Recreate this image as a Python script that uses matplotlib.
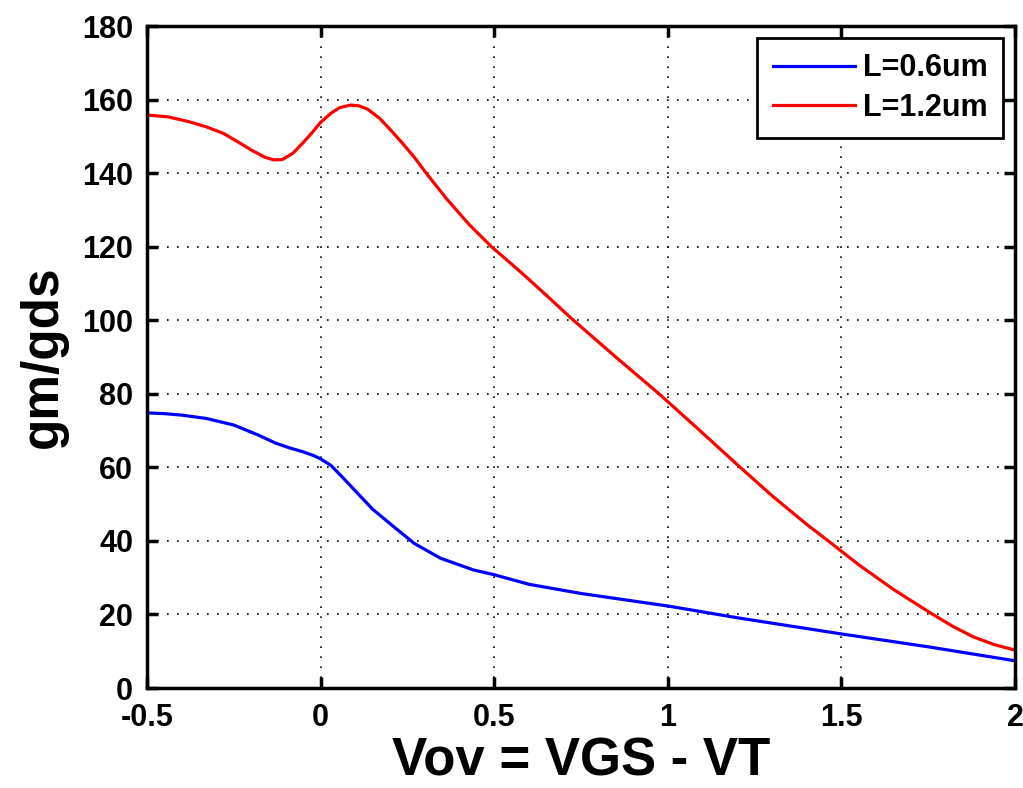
import matplotlib
matplotlib.use("Agg")
import matplotlib.pyplot as plt

# gm/gds versus overdrive voltage
vov_short = [-0.5, -0.45, -0.4, -0.33, -0.25, -0.18, -0.13, -0.09, -0.05, -0.02,
             0.0, 0.03, 0.06, 0.1, 0.15, 0.21, 0.27, 0.345, 0.44, 0.5,
             0.6, 0.75, 1.0, 1.2, 1.5, 1.75, 2.0]
gain_short = [74.8, 74.6, 74.2, 73.3, 71.5, 68.8, 66.6, 65.3, 64.2, 63.2,
              62.3, 60.5, 57.6, 53.6, 48.6, 43.9, 39.3, 35.3, 32.1, 30.8,
              28.2, 25.7, 22.3, 19.1, 14.7, 11.2, 7.4]

vov_long = [-0.5, -0.44, -0.38, -0.33, -0.28, -0.24, -0.2, -0.16, -0.135, -0.11,
            -0.08, -0.05, -0.02, 0.0, 0.03, 0.055, 0.086, 0.11, 0.135, 0.17,
            0.2, 0.235, 0.27, 0.3, 0.363, 0.43, 0.492, 0.574, 0.65, 0.721,
            0.85, 0.977, 1.09, 1.205, 1.3, 1.4, 1.462, 1.55, 1.65, 1.755,
            1.82, 1.88, 1.94, 2.0]
gain_long = [155.8, 155.3, 154.0, 152.6, 150.8, 148.6, 146.3, 144.3, 143.6, 143.7,
             145.4, 148.3, 151.5, 153.8, 156.3, 157.8, 158.5, 158.3, 157.4, 154.9,
             151.9, 148.2, 144.3, 140.5, 133.0, 125.8, 120.0, 113.3, 106.8, 100.6,
             90.0, 79.8, 70.2, 60.3, 52.3, 44.5, 40.0, 33.5, 26.8, 20.5,
             16.8, 13.9, 11.8, 10.3]

x_ticks = [-0.5, 0, 0.5, 1, 1.5, 2]
x_tick_labels = ['-0.5', '0', '0.5', '1', '1.5', '2']
y_ticks = list(range(0, 181, 20))

plt.rcParams['font.family'] = ['Liberation Sans', 'DejaVu Sans']
plt.rcParams['font.weight'] = 'bold'

fig = plt.figure(figsize=(10.23, 7.88), dpi=100)
ax = fig.add_axes([147 / 1023, 100 / 788, 868 / 1023, 662 / 788])

ax.plot(vov_short, gain_short, color='#0000ff', lw=2.3, label='L=0.6um')
ax.plot(vov_long, gain_long, color='#ff0000', lw=2.3, label='L=1.2um')

ax.set_xlim(-0.5, 2)
ax.set_ylim(0, 180)
ax.set_xticks(x_ticks)
ax.set_xticklabels(x_tick_labels)
ax.set_yticks(y_ticks)

ax.grid(True, color='black', linestyle=(0, (1, 5)), linewidth=1.2)
for side in ax.spines.values():
    side.set_linewidth(2.5)
ax.tick_params(direction='in', length=8, width=2.5, labelsize=22,
               top=True, right=True)
ax.tick_params(axis='x', pad=11)
ax.tick_params(axis='y', pad=10)

ax.set_xlabel('Vov = VGS - VT', fontsize=38, fontweight='bold', labelpad=2)
ax.set_ylabel('gm/gds', fontsize=37, fontweight='bold', labelpad=10)

leg = ax.legend(loc='upper right', fontsize=22, handlelength=2.7,
                handletextpad=0.25, fancybox=False, framealpha=1,
                edgecolor='black', borderaxespad=0.4, borderpad=0.5,
                labelspacing=0.3)
leg.get_frame().set_linewidth(2.0)

fig.savefig('out.png', dpi=100)
